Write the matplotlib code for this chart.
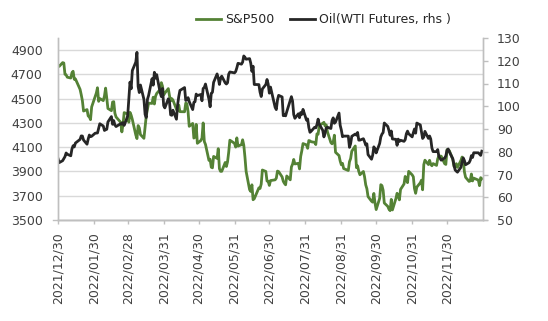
import matplotlib
matplotlib.use("Agg")
import matplotlib.pyplot as plt
import pandas as pd

# trading days, one line per month
dates = [
    "2021-12-30", "2021-12-31",
    "2022-01-03", "2022-01-04", "2022-01-05", "2022-01-06", "2022-01-07", "2022-01-10", "2022-01-11", "2022-01-12", "2022-01-13", "2022-01-14",
    "2022-01-18", "2022-01-19", "2022-01-20", "2022-01-21", "2022-01-24", "2022-01-25", "2022-01-26", "2022-01-27", "2022-01-28", "2022-01-31",
    "2022-02-01", "2022-02-02", "2022-02-03", "2022-02-04", "2022-02-07", "2022-02-08", "2022-02-09", "2022-02-10", "2022-02-11", "2022-02-14",
    "2022-02-15", "2022-02-16", "2022-02-17", "2022-02-18", "2022-02-22", "2022-02-23", "2022-02-24", "2022-02-25", "2022-02-28",
    "2022-03-01", "2022-03-02", "2022-03-03", "2022-03-04", "2022-03-07", "2022-03-08", "2022-03-09", "2022-03-10", "2022-03-11", "2022-03-14",
    "2022-03-15", "2022-03-16", "2022-03-17", "2022-03-18", "2022-03-21", "2022-03-22", "2022-03-23", "2022-03-24", "2022-03-25", "2022-03-28",
    "2022-03-29", "2022-03-30", "2022-03-31",
    "2022-04-01", "2022-04-04", "2022-04-05", "2022-04-06", "2022-04-07", "2022-04-08", "2022-04-11", "2022-04-12", "2022-04-13", "2022-04-14",
    "2022-04-18", "2022-04-19", "2022-04-20", "2022-04-21", "2022-04-22", "2022-04-25", "2022-04-26", "2022-04-27", "2022-04-28", "2022-04-29",
    "2022-05-02", "2022-05-03", "2022-05-04", "2022-05-05", "2022-05-06", "2022-05-09", "2022-05-10", "2022-05-11", "2022-05-12", "2022-05-13",
    "2022-05-16", "2022-05-17", "2022-05-18", "2022-05-19", "2022-05-20", "2022-05-23", "2022-05-24", "2022-05-25", "2022-05-26", "2022-05-27",
    "2022-05-31",
    "2022-06-01", "2022-06-02", "2022-06-03", "2022-06-06", "2022-06-07", "2022-06-08", "2022-06-09", "2022-06-10", "2022-06-13", "2022-06-14",
    "2022-06-15", "2022-06-16", "2022-06-17", "2022-06-21", "2022-06-22", "2022-06-23", "2022-06-24", "2022-06-27", "2022-06-28", "2022-06-29",
    "2022-06-30",
    "2022-07-01", "2022-07-05", "2022-07-06", "2022-07-07", "2022-07-08", "2022-07-11", "2022-07-12", "2022-07-13", "2022-07-14", "2022-07-15",
    "2022-07-18", "2022-07-19", "2022-07-20", "2022-07-21", "2022-07-22", "2022-07-25", "2022-07-26", "2022-07-27", "2022-07-28", "2022-07-29",
    "2022-08-01", "2022-08-02", "2022-08-03", "2022-08-04", "2022-08-05", "2022-08-08", "2022-08-09", "2022-08-10", "2022-08-11", "2022-08-12",
    "2022-08-15", "2022-08-16", "2022-08-17", "2022-08-18", "2022-08-19", "2022-08-22", "2022-08-23", "2022-08-24", "2022-08-25", "2022-08-26",
    "2022-08-29", "2022-08-30", "2022-08-31",
    "2022-09-01", "2022-09-02", "2022-09-06", "2022-09-07", "2022-09-08", "2022-09-09", "2022-09-12", "2022-09-13", "2022-09-14", "2022-09-15",
    "2022-09-16", "2022-09-19", "2022-09-20", "2022-09-21", "2022-09-22", "2022-09-23", "2022-09-26", "2022-09-27", "2022-09-28", "2022-09-29",
    "2022-09-30",
    "2022-10-03", "2022-10-04", "2022-10-05", "2022-10-06", "2022-10-07", "2022-10-10", "2022-10-11", "2022-10-12", "2022-10-13", "2022-10-14",
    "2022-10-17", "2022-10-18", "2022-10-19", "2022-10-20", "2022-10-21", "2022-10-24", "2022-10-25", "2022-10-26", "2022-10-27", "2022-10-28",
    "2022-10-31",
    "2022-11-01", "2022-11-02", "2022-11-03", "2022-11-04", "2022-11-07", "2022-11-08", "2022-11-09", "2022-11-10", "2022-11-11", "2022-11-14",
    "2022-11-15", "2022-11-16", "2022-11-17", "2022-11-18", "2022-11-21", "2022-11-22", "2022-11-23", "2022-11-25", "2022-11-28", "2022-11-29",
    "2022-11-30",
    "2022-12-01", "2022-12-02", "2022-12-05", "2022-12-06", "2022-12-07", "2022-12-08", "2022-12-09", "2022-12-12", "2022-12-13", "2022-12-14",
    "2022-12-15", "2022-12-16", "2022-12-19", "2022-12-20", "2022-12-21", "2022-12-22", "2022-12-23", "2022-12-27", "2022-12-28", "2022-12-29",
    "2022-12-30",
]

sp500 = [
    4778, 4766,
    4797, 4794, 4701, 4696, 4677, 4670, 4713, 4726, 4660, 4663, 4577, 4533, 4483, 4398, 4410, 4357, 4350, 4327, 4432, 4516,
    4546, 4590, 4478, 4501, 4484, 4522, 4587, 4504, 4419, 4401, 4472, 4475, 4380, 4349, 4305, 4226, 4289, 4385, 4374,
    4306, 4387, 4364, 4329, 4201, 4171, 4278, 4260, 4204, 4173, 4263, 4358, 4412, 4463, 4461, 4512, 4456, 4520, 4543, 4576, 4632, 4602, 4530,
    4546, 4583, 4525, 4481, 4500, 4488, 4413, 4397, 4447, 4393, 4392, 4463, 4459, 4394, 4272, 4296, 4175, 4184, 4288, 4132,
    4155, 4175, 4300, 4147, 4123, 3991, 4001, 3935, 3930, 4024, 4008, 4088, 3923, 3901, 3901, 3974, 3941, 3979, 4058, 4158, 4132,
    4101, 4177, 4109, 4121, 4161, 4116, 4018, 3901, 3750, 3735, 3790, 3667, 3675, 3765, 3760, 3796, 3912, 3900, 3821, 3819, 3785,
    3825, 3831, 3845, 3903, 3899, 3855, 3819, 3802, 3790, 3863, 3831, 3937, 3960, 3999, 3962, 3967, 3921, 4024, 4072, 4130,
    4119, 4091, 4155, 4152, 4145, 4140, 4122, 4210, 4207, 4280, 4297, 4305, 4275, 4284, 4228, 4138, 4128, 4141, 4199, 4058, 4031, 3986, 3955,
    3967, 3924, 3908, 3980, 4006, 4067, 4110, 3932, 3946, 3901, 3873, 3900, 3856, 3790, 3758, 3693, 3655, 3647, 3719, 3640, 3586,
    3678, 3791, 3783, 3745, 3640, 3612, 3589, 3577, 3670, 3583, 3677, 3720, 3696, 3666, 3752, 3797, 3859, 3830, 3808, 3901, 3872,
    3856, 3759, 3720, 3771, 3807, 3828, 3749, 3956, 3993, 3957, 3992, 3959, 3947, 3965, 3950, 4004, 4028, 4026, 3964, 3958, 4080,
    4076, 4072, 3999, 3941, 3933, 3964, 3934, 3991, 4019, 3996, 3896, 3852, 3818, 3822, 3879, 3822, 3845, 3829, 3783, 3849, 3840,
]

wti = [
    76.99, 75.21,
    76.08, 76.99, 77.85, 79.46, 78.90, 78.23, 81.22, 82.64, 82.12, 83.82, 85.43, 86.96, 86.90, 85.14, 83.31, 85.60, 87.35, 86.61, 86.82, 88.15,
    88.20, 88.26, 90.27, 92.31, 91.32, 89.36, 89.66, 89.88, 93.10, 95.46, 92.07, 93.66, 91.76, 91.07, 92.35, 92.10, 92.81, 91.59, 95.72,
    103.41, 110.60, 107.67, 115.68, 119.40, 123.70, 108.70, 106.02, 109.33, 103.01, 96.44, 95.04, 102.98, 104.70, 112.12, 109.27, 114.93,
    112.34, 113.90, 105.96, 104.24, 107.82, 100.28,
    99.27, 103.28, 101.96, 96.23, 96.03, 98.26, 94.29, 100.60, 104.25, 106.95, 108.21, 102.56, 102.75, 103.79, 102.07, 98.54, 101.70, 102.02,
    105.36, 104.69,
    105.17, 102.41, 107.81, 108.26, 109.77, 103.09, 99.76, 105.71, 106.13, 110.49, 114.20, 112.40, 109.59, 112.21, 113.23, 110.29, 109.77,
    110.33, 114.09, 115.07, 114.67,
    115.26, 116.87, 118.87, 118.50, 119.41, 122.11, 121.51, 120.67, 120.93, 118.93, 115.31, 117.59, 109.56, 109.52, 106.19, 104.27, 107.62,
    109.57, 111.76, 109.78, 105.76,
    108.43, 99.50, 98.53, 102.73, 104.79, 104.09, 95.84, 96.30, 95.78, 97.59, 102.60, 104.22, 102.26, 96.35, 94.70, 96.70, 94.98, 97.26,
    96.42, 98.62,
    93.89, 94.42, 90.66, 88.54, 89.01, 90.76, 90.50, 91.93, 94.34, 92.09, 89.41, 86.53, 88.11, 90.50, 90.77, 90.23, 93.74, 94.89, 92.52,
    93.06, 97.01, 91.64, 89.55,
    86.61, 86.87, 86.88, 81.94, 83.54, 86.79, 87.78, 87.31, 88.48, 85.10, 85.11, 85.73, 84.45, 82.94, 83.49, 78.74, 76.71, 78.50, 82.15,
    81.23, 79.49,
    83.63, 86.52, 87.76, 88.45, 92.64, 91.13, 89.35, 87.27, 89.11, 85.61, 85.46, 82.82, 85.55, 84.51, 85.05, 84.58, 85.32, 87.91, 89.08,
    87.90, 86.53,
    88.37, 90.00, 88.17, 92.61, 91.79, 88.91, 85.83, 86.47, 88.96, 85.87, 86.92, 85.59, 81.64, 80.08, 80.04, 80.95, 77.94, 76.28, 77.24,
    78.20, 80.55,
    81.22, 79.98, 76.93, 74.25, 72.01, 71.46, 71.02, 73.17, 75.39, 77.28, 76.11, 74.29, 75.19, 76.23, 78.29, 77.49, 79.56, 79.53, 78.96,
    78.40, 80.26,
]

tick_dates = ["2021-12-30", "2022-01-30", "2022-02-28", "2022-03-31", "2022-04-30", "2022-05-31",
              "2022-06-30", "2022-07-31", "2022-08-31", "2022-09-30", "2022-10-31", "2022-11-30"]
tick_labels = [d.replace("-", "/") for d in tick_dates]

assert len(dates) == len(sp500) == len(wti)

green = "#548235"
black = "#262626"
axis_grey = "#bfbfbf"
grid_grey = "#d9d9d9"
text_col = "#404040"

plt.rcParams["font.family"] = "DejaVu Sans"

x = pd.to_datetime(dates)

fig = plt.figure(figsize=(5.48, 3.21), dpi=100)
ax = fig.add_axes([58 / 548, 1 - 220 / 321, 425 / 548, 182 / 321])
ax2 = ax.twinx()

l1, = ax.plot(x, sp500, color=green, lw=2.0, label="S&P500")
l2, = ax2.plot(x, wti, color=black, lw=2.0, label="Oil(WTI Futures, rhs )")

ax.set_xlim(pd.Timestamp("2021-12-30"), pd.Timestamp("2022-12-31"))
ax.set_ylim(3500, 5000)
ax.set_yticks(range(3500, 5000, 200))
ax2.set_ylim(50, 130)
ax2.set_yticks(range(50, 131, 10))

ax.set_xticks(pd.to_datetime(tick_dates))
ax.set_xticklabels(tick_labels, rotation=90)

ax.grid(axis="y", color=grid_grey, lw=1.0)
ax.set_axisbelow(True)

for a in (ax, ax2):
    a.spines["top"].set_visible(False)
    for s in ("left", "right", "bottom"):
        a.spines[s].set_color(axis_grey)
        a.spines[s].set_linewidth(1.0)

ax.tick_params(axis="y", length=0, pad=11, labelsize=9, labelcolor=text_col)
ax.tick_params(axis="x", length=3, width=1, color=axis_grey, pad=6, labelsize=9, labelcolor=text_col)
ax2.tick_params(axis="y", length=3.6, width=1, color=axis_grey, pad=6.5, labelsize=9, labelcolor=text_col)

# axis line runs a little past both sides
ax.plot([-0.012, 1.01], [0, 0], transform=ax.transAxes, color=axis_grey, lw=1.0, clip_on=False)

fig.legend(handles=[l1, l2], loc="center", bbox_to_anchor=(0.59, 0.938), ncol=2, frameon=False,
           fontsize=9, handlelength=2.0, handletextpad=0.3, columnspacing=1.3, labelcolor="#262626")

fig.savefig("out.png", dpi=100)
